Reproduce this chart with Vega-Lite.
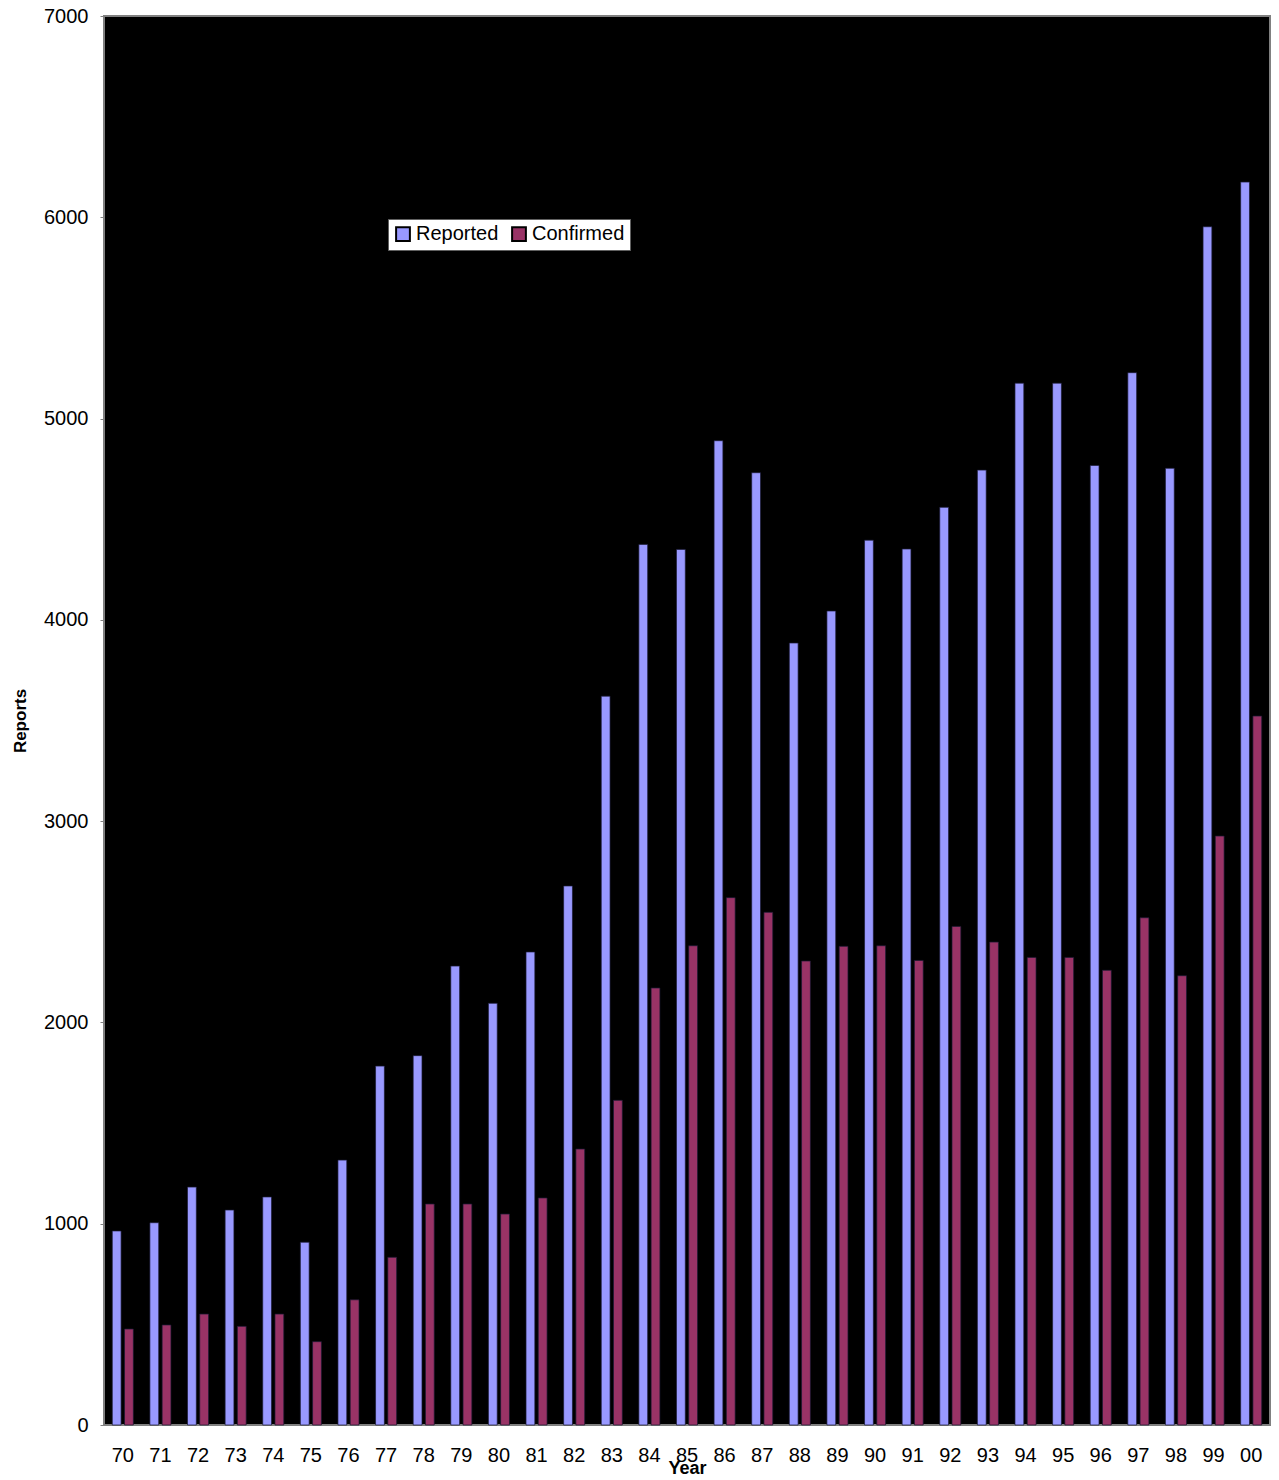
{
  "$schema": "https://vega.github.io/schema/vega-lite/v6.json",
  "autosize": "none",
  "width": 1166,
  "height": 1409,
  "padding": {"left": 104, "top": 16, "right": 9, "bottom": 55},
  "background": "white",
  "config": {
    "font": "Liberation Sans",
    "view": {"fill": "black", "stroke": "#808080", "strokeWidth": 2}
  },
  "data": {
    "values": [
      {"year": "70", "series": "Reported", "value": 964},
      {"year": "70", "series": "Confirmed", "value": 477},
      {"year": "71", "series": "Reported", "value": 1005},
      {"year": "71", "series": "Confirmed", "value": 497},
      {"year": "72", "series": "Reported", "value": 1182},
      {"year": "72", "series": "Confirmed", "value": 551},
      {"year": "73", "series": "Reported", "value": 1068},
      {"year": "73", "series": "Confirmed", "value": 490},
      {"year": "74", "series": "Reported", "value": 1133},
      {"year": "74", "series": "Confirmed", "value": 551},
      {"year": "75", "series": "Reported", "value": 908},
      {"year": "75", "series": "Confirmed", "value": 414},
      {"year": "76", "series": "Reported", "value": 1316},
      {"year": "76", "series": "Confirmed", "value": 622},
      {"year": "77", "series": "Reported", "value": 1783},
      {"year": "77", "series": "Confirmed", "value": 833},
      {"year": "78", "series": "Reported", "value": 1835},
      {"year": "78", "series": "Confirmed", "value": 1098},
      {"year": "79", "series": "Reported", "value": 2280},
      {"year": "79", "series": "Confirmed", "value": 1098},
      {"year": "80", "series": "Reported", "value": 2095},
      {"year": "80", "series": "Confirmed", "value": 1048},
      {"year": "81", "series": "Reported", "value": 2350},
      {"year": "81", "series": "Confirmed", "value": 1128},
      {"year": "82", "series": "Reported", "value": 2678},
      {"year": "82", "series": "Confirmed", "value": 1371},
      {"year": "83", "series": "Reported", "value": 3621},
      {"year": "83", "series": "Confirmed", "value": 1613},
      {"year": "84", "series": "Reported", "value": 4375},
      {"year": "84", "series": "Confirmed", "value": 2171},
      {"year": "85", "series": "Reported", "value": 4350},
      {"year": "85", "series": "Confirmed", "value": 2381},
      {"year": "86", "series": "Reported", "value": 4890},
      {"year": "86", "series": "Confirmed", "value": 2620},
      {"year": "87", "series": "Reported", "value": 4731},
      {"year": "87", "series": "Confirmed", "value": 2547},
      {"year": "88", "series": "Reported", "value": 3885},
      {"year": "88", "series": "Confirmed", "value": 2305},
      {"year": "89", "series": "Reported", "value": 4044},
      {"year": "89", "series": "Confirmed", "value": 2378},
      {"year": "90", "series": "Reported", "value": 4396},
      {"year": "90", "series": "Confirmed", "value": 2381},
      {"year": "91", "series": "Reported", "value": 4352},
      {"year": "91", "series": "Confirmed", "value": 2308},
      {"year": "92", "series": "Reported", "value": 4559},
      {"year": "92", "series": "Confirmed", "value": 2477},
      {"year": "93", "series": "Reported", "value": 4744},
      {"year": "93", "series": "Confirmed", "value": 2399},
      {"year": "94", "series": "Reported", "value": 5176},
      {"year": "94", "series": "Confirmed", "value": 2323},
      {"year": "95", "series": "Reported", "value": 5176},
      {"year": "95", "series": "Confirmed", "value": 2323},
      {"year": "96", "series": "Reported", "value": 4767},
      {"year": "96", "series": "Confirmed", "value": 2259},
      {"year": "97", "series": "Reported", "value": 5228},
      {"year": "97", "series": "Confirmed", "value": 2520},
      {"year": "98", "series": "Reported", "value": 4753},
      {"year": "98", "series": "Confirmed", "value": 2232},
      {"year": "99", "series": "Reported", "value": 5953},
      {"year": "99", "series": "Confirmed", "value": 2926},
      {"year": "00", "series": "Reported", "value": 6175},
      {"year": "00", "series": "Confirmed", "value": 3522}
    ]
  },
  "layer": [
    {
      "mark": {"type": "rule", "color": "#808080", "strokeWidth": 1.5, "strokeDash": [6, 5]},
      "encoding": {"y": {"datum": 0}}
    },
    {
      "mark": {"type": "bar", "stroke": "#1a1a33", "strokeWidth": 0.7},
      "encoding": {
        "x": {
          "field": "year",
          "type": "nominal",
          "sort": null,
          "scale": {"paddingInner": 0.44, "paddingOuter": 0.22},
          "axis": {
            "title": "Year",
            "titleFontSize": 18,
            "titleFontWeight": "bold",
            "titleColor": "black",
            "titleY": 34,
            "titleBaseline": "top",
            "labelAngle": 0,
            "labelFontSize": 20,
            "labelColor": "black",
            "labelPadding": 20,
            "ticks": false,
            "domain": false
          }
        },
        "xOffset": {
          "field": "series",
          "type": "nominal",
          "sort": ["Reported", "Confirmed"],
          "scale": {"paddingInner": 0.28, "paddingOuter": 0}
        },
        "y": {
          "field": "value",
          "type": "quantitative",
          "scale": {"domain": [0, 7000], "nice": false},
          "axis": {
            "title": "Reports",
            "titleFontSize": 17,
            "titleFontWeight": "bold",
            "titleColor": "black",
            "titlePadding": 14,
            "values": [0, 1000, 2000, 3000, 4000, 5000, 6000, 7000],
            "format": "d",
            "labelFontSize": 20,
            "labelColor": "black",
            "labelPadding": 12,
            "tickSize": 4,
            "tickColor": "#808080",
            "domain": false,
            "grid": false
          }
        },
        "color": {
          "field": "series",
          "type": "nominal",
          "scale": {"domain": ["Reported", "Confirmed"], "range": ["#9999FF", "#993366"]},
          "legend": {
            "title": null,
            "orient": "none",
            "legendX": 284,
            "legendY": 203,
            "direction": "horizontal",
            "fillColor": "white",
            "strokeColor": "#606060",
            "padding": 5,
            "symbolType": "square",
            "symbolSize": 190,
            "symbolStrokeColor": "black",
            "symbolStrokeWidth": 2,
            "symbolOpacity": 1,
            "labelFontSize": 20,
            "labelColor": "black",
            "labelOffset": 3,
            "columnPadding": 9
          }
        }
      }
    }
  ]
}
